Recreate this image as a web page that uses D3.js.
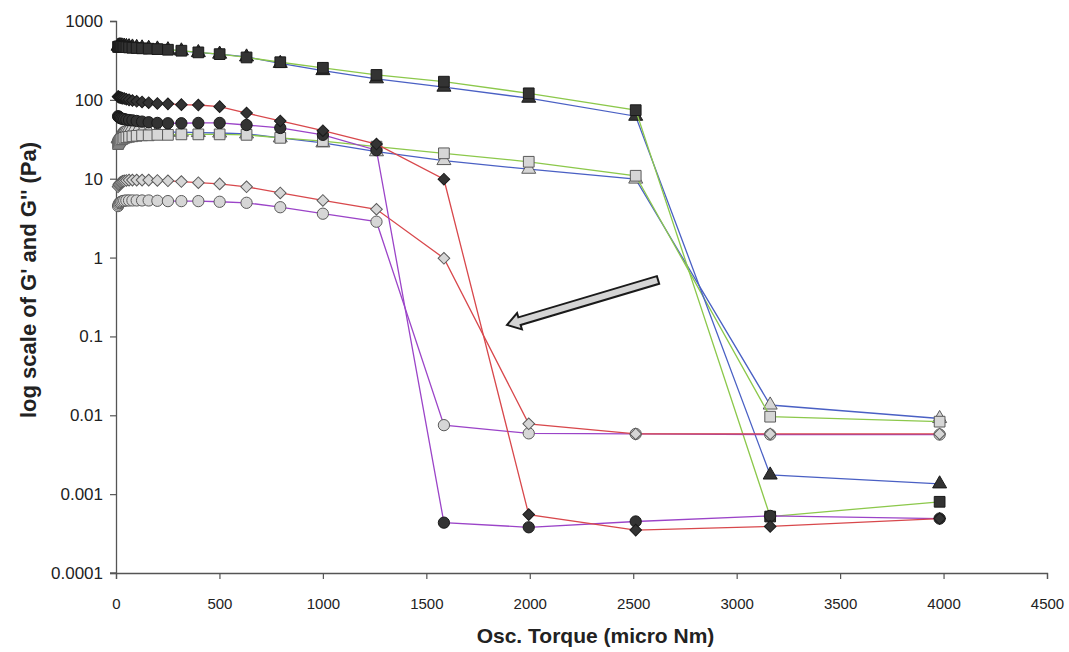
<!DOCTYPE html>
<html><head><meta charset="utf-8">
<script src="https://cdn.jsdelivr.net/npm/d3@7"></script>
<style>
html,body{margin:0;padding:0;background:#fff;}
svg{display:block;font-family:"Liberation Sans",Arial,sans-serif;}
</style></head>
<body><svg id="c" width="1069" height="652"></svg>
<script>
const torque = [10,12.6,15.8,20,25.1,31.6,39.8,50.1,63.1,79.4,100,126,158,200,251,316,398,501,631,794,1000,1259,1585,1995,2512,3162,3981];

const blackTriangle = [480,482,484,485,484,482,480,476,472,468,462,456,450,442,432,418,398,380,350,290,235,185,145,105,62,0.00175,0.00135];
const blackSquare   = [470,472,474,475,474,472,470,466,462,458,455,450,445,440,432,420,400,380,345,300,255,207,170,121,74,0.00052,0.0008];
const lightTriangle = [32,33,34,35,36,37,37.5,38,38.5,39,39,39.5,39.5,39.5,39,39,38.5,38,37,33,28.5,22,17,13.2,9.9,0.0135,0.0091];
const lightSquare   = [27.5,28.5,29.5,30.5,31.5,32,33,33.5,34,34.5,35,35.5,35.5,36,36,36.5,36.5,36.5,36,33,30,25.5,21,16.4,10.9,0.0096,0.0083];
const lightCircle   = [4.5,4.7,4.9,5.0,5.1,5.2,5.25,5.3,5.3,5.3,5.3,5.3,5.3,5.25,5.2,5.2,5.2,5.1,4.95,4.35,3.6,2.85,0.0075,0.0059,0.0058,0.0057,0.0057];
const lightDiamond  = [7.9,8.3,8.6,8.9,9.1,9.3,9.4,9.5,9.6,9.6,9.6,9.6,9.6,9.5,9.4,9.2,8.9,8.6,7.9,6.6,5.3,4.1,0.98,0.0078,0.0058,0.0058,0.0058];
const blackCircle   = [62,61,60,59,58,57.5,57,56,55.5,55,54,53,52,51,50.5,50.5,51,51,48,44,36,23,0.000435,0.00038,0.00045,0.00053,0.00049];
const blackDiamond  = [110,109,108,107,106,105,104,102,100,98,96,94,92,90,89,87,86,82,68,54,40.6,27.5,9.85,0.00055,0.00035,0.00039,0.00049];

const xTicks = [0,500,1000,1500,2000,2500,3000,3500,4000,4500];
const yTicks = [0.0001,0.001,0.01,0.1,1,10,100,1000];
const yTickLabels = ["0.0001","0.001","0.01","0.1","1","10","100","1000"];
const xTitle = "Osc. Torque (micro Nm)";
const yTitle = "log scale of G' and G'' (Pa)";
const arrowFrom = [2620, 0.52];
const arrowTo = [1890, 0.14];

const series = [
  {vals: lightTriangle, sym: d3.symbolTriangle, size: 85, rot: 0, light: true, line: "#4a60c4"},
  {vals: lightSquare,   sym: d3.symbolSquare,   size: 115, rot: 0, light: true, line: "#8cc84b"},
  {vals: blackTriangle, sym: d3.symbolTriangle, size: 85, rot: 0, light: false, line: "#4a60c4"},
  {vals: blackSquare,   sym: d3.symbolSquare,   size: 115, rot: 0, light: false, line: "#8cc84b"},
  {vals: lightCircle,   sym: d3.symbolCircle,   size: 100, rot: 0, light: true, line: "#9b44c8"},
  {vals: lightDiamond,  sym: d3.symbolSquare,   size: 68, rot: 45, light: true, line: "#d8484c"},
  {vals: blackCircle,   sym: d3.symbolCircle,   size: 100, rot: 0, light: false, line: "#9b44c8"},
  {vals: blackDiamond,  sym: d3.symbolSquare,   size: 68, rot: 45, light: false, line: "#d8484c"}
];

const svg = d3.select("#c");
const L = 116, R = 1047, T = 21, B = 573;
const x = d3.scaleLinear().domain([0,4500]).range([L,R]);
const y = d3.scaleLog().domain([0.0001,1000]).range([B,T]);

// axes
const yAxis = svg.append("g").attr("transform",`translate(${L},0)`)
  .call(d3.axisLeft(y).tickValues(yTicks).tickFormat((d,i)=>yTickLabels[i]).tickSize(6).tickPadding(7));
const xAxis = svg.append("g").attr("transform",`translate(0,${B})`)
  .call(d3.axisBottom(x).tickValues(xTicks).tickFormat(d3.format("d")).tickSize(6).tickPadding(19));
[yAxis,xAxis].forEach(g=>{
  g.select(".domain").attr("stroke","#555").attr("stroke-width",1.3);
  g.selectAll(".tick line").attr("stroke","#555").attr("stroke-width",1.2);
  g.selectAll("text").attr("fill","#222").attr("font-family","'Liberation Sans',Arial,sans-serif");
});
yAxis.selectAll("text").attr("font-size",17);
xAxis.selectAll("text").attr("font-size",15);
// small extension of x axis past y axis
svg.append("line").attr("x1",L-6).attr("x2",L).attr("y1",B).attr("y2",B).attr("stroke","#555").attr("stroke-width",1.3);

// titles
svg.append("text").attr("x",(L+R)/2+14).attr("y",643).attr("text-anchor","middle")
  .attr("font-size",21).attr("font-weight","bold").attr("fill","#222").text(xTitle);
svg.append("text").attr("transform",`translate(36,${(T+B)/2-17}) rotate(-90)`).attr("text-anchor","middle")
  .attr("font-size",22).attr("font-weight","bold").attr("fill","#222").text(yTitle);

// series
const lineGen = d3.line().x((d,i)=>x(torque[i])).y(d=>y(d));
series.forEach(s=>{
  const g = svg.append("g");
  g.append("path").attr("d",lineGen(s.vals)).attr("fill","none").attr("stroke",s.line).attr("stroke-width",1.3);
  g.selectAll("path.m").data(s.vals).join("path").attr("class","m")
    .attr("d",d3.symbol().type(s.sym).size(s.size))
    .attr("transform",(d,i)=>`translate(${x(torque[i])},${y(d)}) rotate(${s.rot})`)
    .attr("fill",s.light?"#d6d6d6":"#333")
    .attr("stroke",s.light?"#5a5a5a":"#1a1a1a")
    .attr("stroke-width",1);
});

// arrow annotation
(function(){
  const x0=x(arrowFrom[0]), y0=y(arrowFrom[1]), x1=x(arrowTo[0]), y1=y(arrowTo[1]);
  const dx=x1-x0, dy=y1-y0, len=Math.hypot(dx,dy);
  const ux=dx/len, uy=dy/len, nx=-uy, ny=ux;
  const sw=4, hw=8.5, hl=13;
  const bx=x1-ux*hl, by=y1-uy*hl;
  const pts=[
    [x0+nx*sw,y0+ny*sw],[bx+nx*sw,by+ny*sw],[bx+nx*hw,by+ny*hw],[x1,y1],
    [bx-nx*hw,by-ny*hw],[bx-nx*sw,by-ny*sw],[x0-nx*sw,y0-ny*sw]
  ];
  svg.append("path").attr("d","M"+pts.map(p=>p.join(",")).join("L")+"Z")
    .attr("fill","#d4d4d4").attr("stroke","#1a1a1a").attr("stroke-width",2).attr("stroke-linejoin","miter");
})();
</script></body></html>
